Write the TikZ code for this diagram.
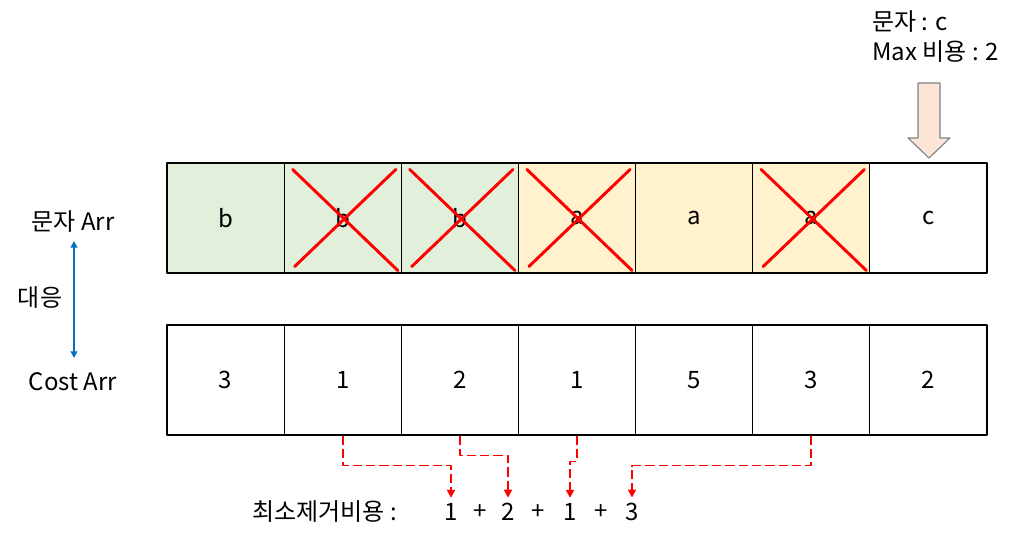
\documentclass[tikz,border=0pt]{standalone}
\usepackage{fontspec}
\setmainfont{Noto Sans CJK KR}
\usepackage{xcolor}
\usetikzlibrary{arrows.meta, positioning, calc}

\definecolor{cellgreen}{HTML}{E2EFDA}
\definecolor{cellyellow}{HTML}{FFF2CC}
\definecolor{pointfill}{HTML}{FBE5D6}
\definecolor{pointline}{HTML}{7F7F7F}
\definecolor{linkblue}{HTML}{0070C0}

\begin{document}
\begin{tikzpicture}[x=0.75pt, y=-0.75pt, >=Stealth, line cap=round, line join=round,
    font=\fontsize{18}{21}\selectfont,
    cell/.style={draw=black, line width=0.8pt, minimum width=87.86pt, minimum height=82.5pt, inner sep=0pt},
    cross/.style={red, line width=2.2pt},
    link/.style={{Triangle[length=5pt,width=5pt]}-{Triangle[length=5pt,width=5pt]}, linkblue, line width=1.3pt},
    pick/.style={->, >={Triangle[length=6pt,width=6pt]}, red, line width=1.4pt, dash pattern=on 7pt off 3pt, line cap=butt},
    sumtext/.style={inner sep=4pt}]
    \useasboundingbox (0,0) rectangle (1023,539);

    % Character array
    \foreach \i/\c/\f in {
        1/b/cellgreen,
        2/b/cellgreen,
        3/b/cellgreen,
        4/a/cellyellow,
        5/a/cellyellow,
        6/a/cellyellow,
        7/c/white}{
        \node[cell, fill=\f] (ch\i) at ({167+117.14*(\i-0.5)},218) {\c};
    }

    % Removed characters
    \foreach \i in {2,3,4,6}{
        \draw[cross] ($(ch\i.north west)+(9,7)$) -- ($(ch\i.south east)+(-4,-3)$);
        \draw[cross] ($(ch\i.north east)+(-6,7)$) -- ($(ch\i.south west)+(11,-7)$);
    }

    % Cost array
    \foreach \i/\v in {1/3, 2/1, 3/2, 4/1, 5/5, 6/3, 7/2}{
        \node[cell] (cost\i) at ({167+117.14*(\i-0.5)},380) {\v};
    }

    % Row labels
    \node (chlabel) at (73,222) {문자 Arr};
    \node (costlabel) at (73,382) {Cost Arr};
    \node (maplabel) at (40,298) {대응};
    \coordinate (maptop) at (74,241);
    \coordinate (mapbot) at (74,358);
    \draw[link] (maptop) -- (mapbot);

    % Current character and max cost
    \node[anchor=west, inner sep=0pt] (curchar) at (872,22) {문자 : c};
    \node[anchor=west, inner sep=0pt] (curmax) at (872,52) {Max 비용 : 2};
    \filldraw[fill=pointfill, draw=pointline, line width=0.8pt]
        (918,83) -- (940,83) -- (940,138) -- (950,138) -- (929,158) -- (908,138) -- (918,138) -- cycle;

    % Minimum removal cost
    \node[anchor=west, inner sep=0pt] (sumlabel) at (252,512) {최소제거비용 :};
    \foreach \n/\x/\t in {s1/451/1, p1/480/+, s2/508/2, p2/538/+, s3/570/1, p3/601/+, s4/632/3}{
        \node[sumtext] (\n) at (\x,512) {\t};
    }

    \draw[pick] (cost2.south) -- ++(0,30) -| (s1.north);
    \draw[pick] (cost3.south) -- ++(0,20) -| (s2.north);
    \draw[pick] (cost4.south) -- ++(0,26) -| (s3.north);
    \draw[pick] (cost6.south) -- ++(0,30) -| (s4.north);

\end{tikzpicture}
\end{document}
